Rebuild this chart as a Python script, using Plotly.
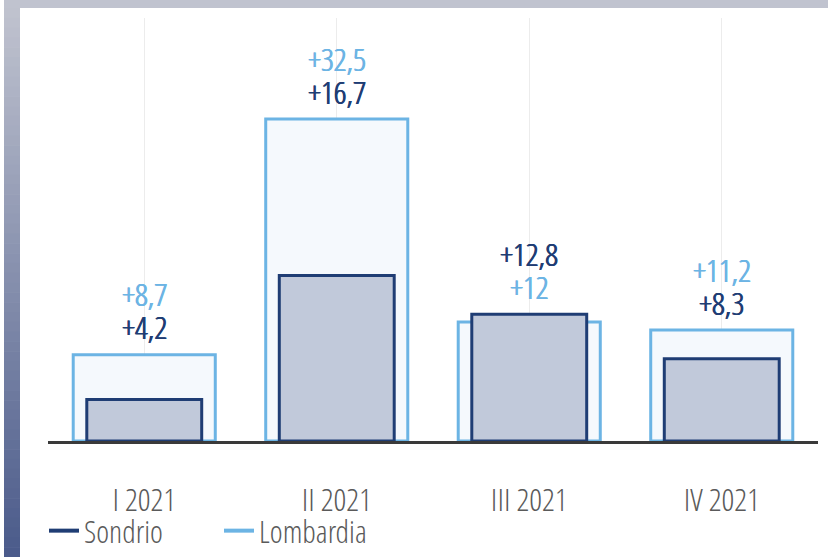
import plotly.graph_objects as go

categories = ["I 2021", "II 2021", "III 2021", "IV 2021"]
sondrio = [4.2, 16.7, 12.8, 8.3]
lombardia = [8.7, 32.5, 12.0, 11.2]

C_SON = "#1f3d74"
C_SON_FILL = "#c1c9da"
C_LOM = "#6cb4e4"
C_LOM_FILL = "#f5f9fd"
FONT = "Open Sans Condensed Light, Liberation Sans, sans-serif"

def fmt(v):
    return ("+" + f"{v:g}").replace(".", ",")

fig = go.Figure()
fig.add_bar(x=categories, y=lombardia, width=0.738, name="Lombardia",
            marker=dict(color=C_LOM_FILL, line=dict(color=C_LOM, width=3)),
            showlegend=False, hoverinfo="skip")
fig.add_bar(x=categories, y=sondrio, width=0.597, name="Sondrio",
            marker=dict(color=C_SON_FILL, line=dict(color=C_SON, width=3)),
            showlegend=False, hoverinfo="skip")
fig.add_scatter(x=[None], y=[None], mode="lines", name="Sondrio",
                line=dict(color=C_SON, width=4))
fig.add_scatter(x=[None], y=[None], mode="lines", name="Lombardia",
                line=dict(color=C_LOM, width=4))

for c, s, l in zip(categories, sondrio, lombardia):
    top = max(s, l)
    pairs = sorted([(s, C_SON), (l, C_LOM)], key=lambda p: p[0])
    for i, (v, col) in enumerate(pairs):
        fig.add_annotation(x=c, y=top, text=fmt(v), showarrow=False,
                           yanchor="middle", yshift=28 + 33 * i,
                           font=dict(family=FONT, size=32, color=col,
                                     shadow="0.7px 0 0 %s, -0.3px 0 0 %s" % (col, col)))

W, H = 828, 557
L, R, T, B = 48, 10, 18, 116
pw, ph = W - L - R, H - T - B
def px(x):
    return (x - L) / pw
def py(y):
    return (H - B - y) / ph

shapes = []
shapes.append(dict(type="rect", xref="paper", yref="paper", x0=px(4), x1=px(828),
                   y0=py(8), y1=py(0), fillcolor="#c0c3cf", line=dict(width=0), layer="above"))
top_c = (0xc0, 0xc3, 0xcf)
bot_c = (0x4a, 0x5a, 0x8a)
n = 56
for i in range(n):
    y0 = 8 + (H - 8) * i / n
    y1 = 8 + (H - 8) * (i + 1) / n + 0.6
    t = (i + 0.5) / n
    col = "rgb(%d,%d,%d)" % tuple(round(a + (b - a) * t) for a, b in zip(top_c, bot_c))
    shapes.append(dict(type="rect", xref="paper", yref="paper", x0=px(4), x1=px(20),
                       y0=py(y1), y1=py(y0), fillcolor=col, line=dict(width=0), layer="above"))

fig.update_layout(
    width=W, height=H,
    margin=dict(l=L, r=R, t=T, b=B, autoexpand=False),
    paper_bgcolor="white", plot_bgcolor="white",
    barmode="overlay",
    shapes=shapes,
    font=dict(family=FONT, color="#5a5a5a"),
    xaxis=dict(showgrid=True, gridcolor="#ececec", gridwidth=1,
               showline=True, linecolor="#3a3a3a", linewidth=3,
               ticks="", tickfont=dict(family=FONT, size=32, color="#5a5a5a"),
               ticklabelstandoff=29, range=[-0.5, 3.5], fixedrange=True,
               automargin=False),
    yaxis=dict(visible=False, range=[0, 42.7], showgrid=False, zeroline=False,
               automargin=False),
    legend=dict(orientation="h", x=px(44), xanchor="left", y=py(531), yanchor="middle",
                font=dict(family=FONT, size=31, color="#5a5a5a"),
                entrywidth=130, entrywidthmode="pixels",
                bgcolor="rgba(0,0,0,0)", itemclick=False),
)

fig.write_html("out.html", config={"displayModeBar": False},
               post_script="document.body.style.margin='0';")
